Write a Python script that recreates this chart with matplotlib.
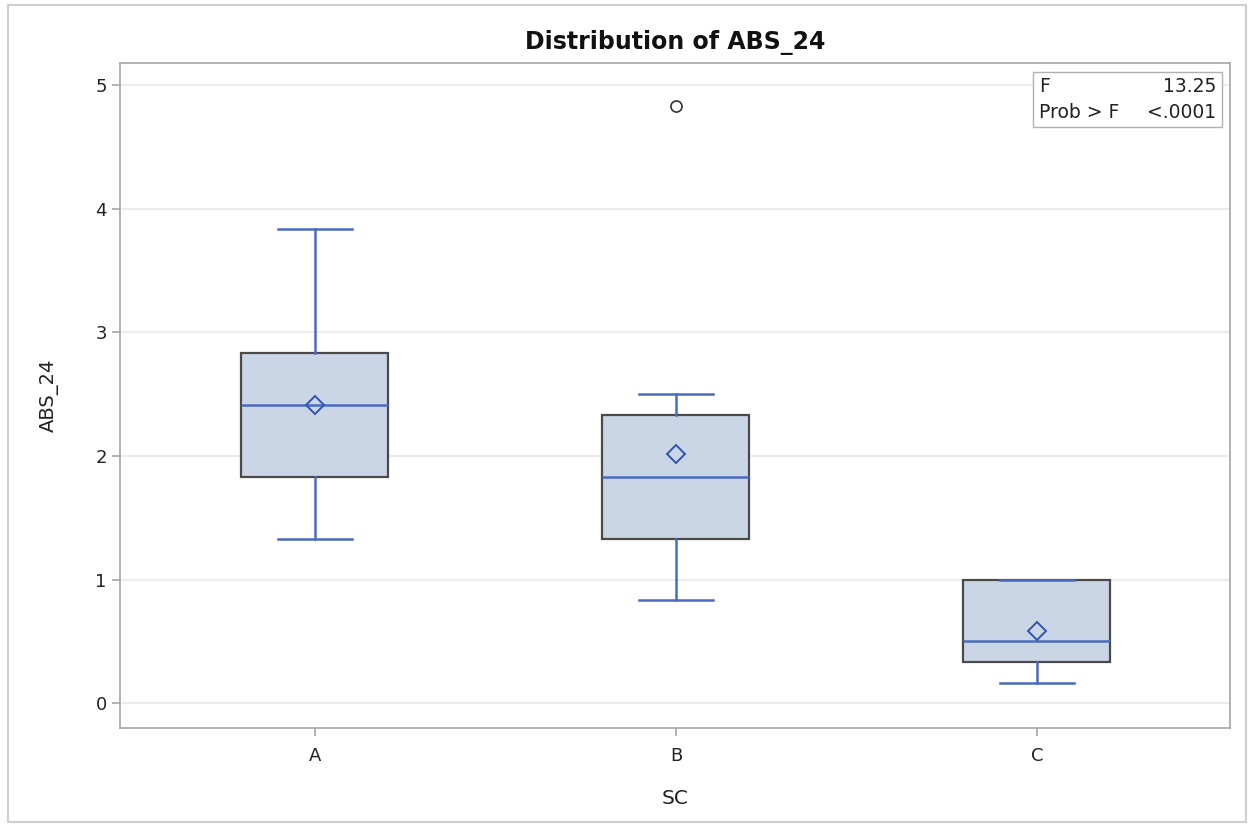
import matplotlib
matplotlib.use("Agg")
import matplotlib.pyplot as plt
from matplotlib.patches import Rectangle

categories = ["A", "B", "C"]
whislo = [1.333, 0.833, 0.167]
q1 = [1.833, 1.333, 0.333]
med = [2.417, 1.833, 0.5]
q3 = [2.833, 2.333, 1.0]
whishi = [3.833, 2.5, 1.0]
means = [2.417, 2.017, 0.583]
fliers = [[], [4.833], []]
f_value = "13.25"
p_value = "<.0001"

plt.rcParams['font.family'] = ['DejaVu Sans']

fig = plt.figure(figsize=(12.5, 8.24), dpi=100)
ax = fig.add_axes([120/1250, 1-728/824, 1110/1250, 665/824])

blue = '#4a6bbf'
stats = []
for i, c in enumerate(categories):
    stats.append(dict(label=c, whislo=whislo[i], q1=q1[i], med=med[i], q3=q3[i],
                      whishi=whishi[i], mean=means[i], fliers=fliers[i]))

ax.bxp(stats, positions=[0, 1, 2], widths=0.407, showmeans=True, patch_artist=True,
       boxprops=dict(facecolor='#cad5e5', edgecolor='#4a4a4a', linewidth=1.6),
       medianprops=dict(color=blue, linewidth=1.8),
       whiskerprops=dict(color=blue, linewidth=1.8),
       capprops=dict(color=blue, linewidth=1.8),
       capwidths=0.205,
       meanprops=dict(marker='D', markerfacecolor='none', markeredgecolor='#2f55b0',
                      markersize=9, markeredgewidth=1.4),
       flierprops=dict(marker='o', markerfacecolor='none', markeredgecolor='#333333',
                       markersize=8, markeredgewidth=1.2),
       zorder=3)

ax.set_xlim(-0.54, 2.535)
ax.set_ylim(-0.2, 5.18)
ax.set_yticks([0, 1, 2, 3, 4, 5])
ax.yaxis.grid(True, color='#ebebeb', linewidth=1.5, zorder=0)
ax.set_axisbelow(True)
for s in ax.spines.values():
    s.set_color('#a6a6a6')
    s.set_linewidth(1.2)
ax.tick_params(axis='both', colors='#a6a6a6', labelcolor='#222222', labelsize=13, length=6, width=1.2)
ax.tick_params(axis='x', pad=8)
ax.set_xlabel("SC", fontsize=14.5, color='#222222', labelpad=17)
ax.set_ylabel("ABS_24", fontsize=14, color='#222222', labelpad=26)
ax.set_title("Distribution of ABS_24", fontsize=17, fontweight='bold', color='#111111', pad=10)

# stats inset
inset = Rectangle((1033/1250, 1-127/824), (1222-1033)/1250, (127-72)/824,
                  transform=fig.transFigure, facecolor='white', edgecolor='#b0b0b0', linewidth=1, zorder=5)
fig.patches.append(inset)
fs = 13.5
fig.text(1039/1250, 1-86/824, "F", fontsize=fs, va='center', ha='left', color='#222222', zorder=6)
fig.text(1216/1250, 1-86/824, f_value, fontsize=fs, va='center', ha='right', color='#222222', zorder=6)
fig.text(1039/1250, 1-112/824, "Prob > F", fontsize=fs, va='center', ha='left', color='#222222', zorder=6)
fig.text(1216/1250, 1-112/824, p_value, fontsize=fs, va='center', ha='right', color='#222222', zorder=6)

# outer border
border = Rectangle((8/1250, 1-822/824), (1246-8)/1250, (822-5)/824, transform=fig.transFigure,
                   facecolor='none', edgecolor='#cfcfcf', linewidth=1.5)
fig.patches.append(border)

fig.savefig("out.png", dpi=100)
